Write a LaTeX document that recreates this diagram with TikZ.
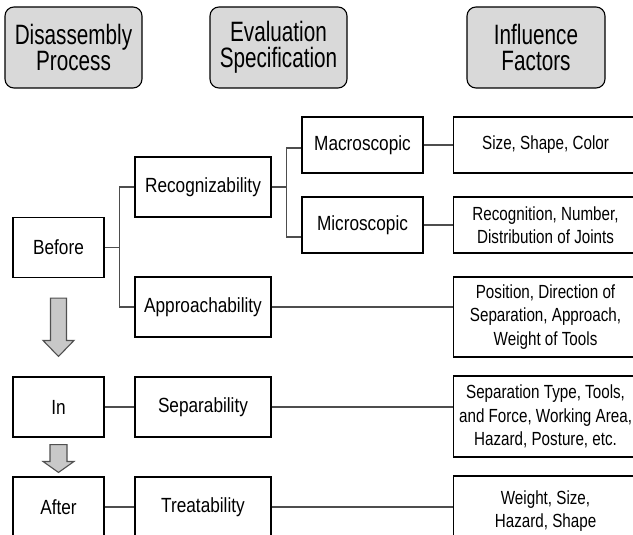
\documentclass[tikz,border=0pt]{standalone}
\usepackage{fontspec}
\setmainfont{Liberation Sans}[FakeStretch=0.84]
\newfontfamily\factfont{Liberation Sans}[FakeStretch=0.8]
\newfontfamily\hdrfont{Liberation Sans}[FakeStretch=0.74]
\usetikzlibrary{calc,positioning}

\definecolor{hdrgray}{HTML}{D9D9D9}
\definecolor{linegray}{HTML}{4D4D4D}
\definecolor{arrowgray}{HTML}{C8C8C8}
\definecolor{arrowedge}{HTML}{505050}

\begin{document}
\begin{tikzpicture}[
    x=1pt,y=-1pt,
    box/.style={draw,line width=1.1pt,minimum width=136pt,minimum height=60pt,
                inner sep=0pt,align=center,font=\fontsize{20.5}{24}\selectfont},
    stage/.style={box,minimum width=91pt},
    sub/.style={box,minimum width=121pt,minimum height=56pt},
    factor/.style={box,anchor=west,minimum width=184pt,minimum height=56pt,
                   font=\factfont\fontsize{19}{23.5}\selectfont},
    hdr/.style={draw,line width=1.1pt,rounded corners=9pt,fill=hdrgray,
                minimum width=137pt,minimum height=81pt,inner sep=0pt,align=center,
                font=\hdrfont\fontsize{28}{26}\selectfont},
    conn/.style={line width=1.4pt,draw=linegray},
    fat/.style={draw=arrowedge,fill=arrowgray,line width=1.1pt,line join=miter},
]
\useasboundingbox (0,0) rectangle (633,535);
\clip (0,0) rectangle (633,535);

% ---- column headers ----
\node[hdr] (hproc) at (73.5,47.5) {Disassembly\\Process};
\node[hdr] (heval) at (278.5,47.5) {Evaluation\\Specification};
\node[hdr,minimum width=138pt] (hfact) at (536,47.5) {Influence\\Factors};

% ---- process stages (left column) ----
\node[stage] (before) at (58.5,247.5) {Before};
\node[stage] (inb)    at (58.5,407)   {In};
\node[stage] (after)  at (58.5,507)   {After};

% ---- evaluation specifications ----
\node[box] (recog) at (203,187) {Recognizability};
\node[box] (appr)  at (203,307) {Approachability};
\node[box] (sepa)  at (203,407) {Separability};
\node[box] (treat) at (203,507) {Treatability};

\node[sub] (macro) at (362.5,145) {Macroscopic};
\node[sub] (micro) at (362.5,225) {Microscopic};

% ---- influence factors (right column, cut at the edge) ----
\node[factor] (fsize)  at (453,145) {Size, Shape, Color};
\node[factor] (fjoint) at (453,225) {Recognition, Number,\\Distribution of Joints};
\node[factor,minimum height=80pt] (fpos) at (453,317)
     {Position, Direction of\\Separation, Approach,\\Weight of Tools};
\node[factor,minimum height=81pt] (fsep) at (453,416.5)
     {Separation Type, Tools,\\and Force, Working Area,\\Hazard, Posture, etc.};
\node[factor,minimum height=70pt] (fwt) at (453,511) {Weight, Size,\\Hazard, Shape};

% ---- tree connectors ----
\coordinate (fork1) at ($(before.east)+(15,0)$);
\draw[conn] (before.east) -- (fork1);
\draw[conn] (recog.west) -| (fork1) |- (appr.west);

\coordinate (fork2) at ($(recog.east)+(15,0)$);
\draw[conn] (recog.east) -- (fork2);
\draw[conn] ([yshift=-3pt]macro.west) -| (fork2) |- ([yshift=-12pt]micro.west);

\draw[conn] (macro.east) -- (macro.east -| fsize.west);
\draw[conn] (micro.east) -- (micro.east -| fjoint.west);
\draw[conn] (appr.east)  -- (appr.east -| fpos.west);
\draw[conn] (inb.east)   -- (sepa.west);
\draw[conn] (sepa.east)  -- (sepa.east -| fsep.west);
\draw[conn] (after.east) -- (treat.west);
\draw[conn] (treat.east) -- (treat.east -| fwt.west);

% ---- block arrows between stages ----
\draw[fat] ($(before.south)+(-8,20)$) -- ($(inb.north)+(-8,-36)$)
      -- ($(inb.north)+(-15.5,-36)$) -- ($(inb.north)+(0,-20)$)
      -- ($(inb.north)+(15.5,-36)$) -- ($(inb.north)+(8,-36)$)
      -- ($(before.south)+(8,20)$) -- cycle;
\draw[fat] ($(inb.south)+(-8.5,7)$) -- ($(after.north)+(-8.5,-15)$)
      -- ($(after.north)+(-15.5,-15)$) -- ($(after.north)+(0,-4)$)
      -- ($(after.north)+(15.5,-15)$) -- ($(after.north)+(8.5,-15)$)
      -- ($(inb.south)+(8.5,7)$) -- cycle;

\end{tikzpicture}
\end{document}
